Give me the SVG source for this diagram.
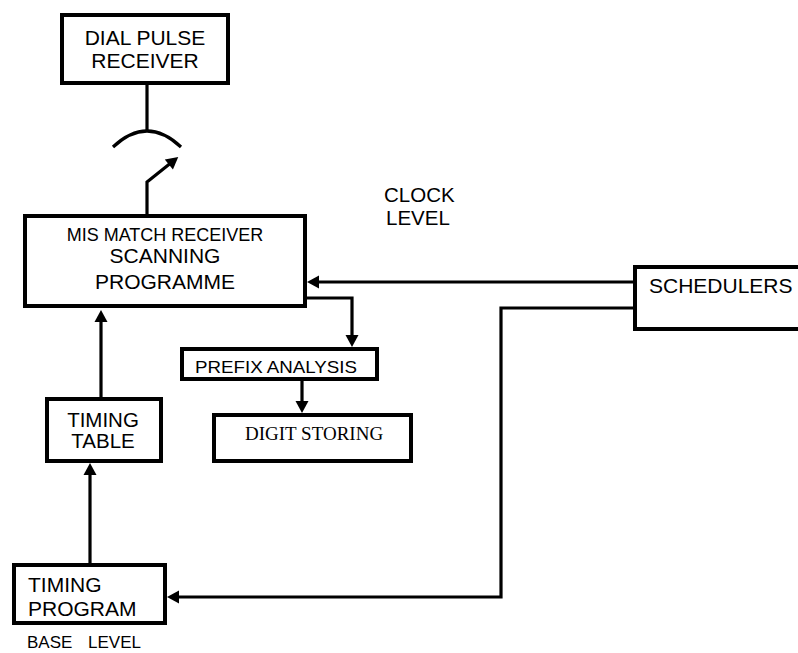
<svg xmlns="http://www.w3.org/2000/svg" width="798" height="653" viewBox="0 0 798 653">
<style>
.box{fill:#fff;stroke:#000;stroke-width:4}
.ln{fill:none;stroke:#000;stroke-width:3.2}
.t{font-family:"Liberation Sans",Arial,sans-serif;fill:#000}
.s{font-family:"Liberation Serif","Times New Roman",serif;fill:#000}
</style>
<defs>
<marker id="ah" markerUnits="userSpaceOnUse" markerWidth="14" markerHeight="14" refX="4" refY="6.5" orient="auto" overflow="visible">
<path d="M0,0 L12,6.5 L0,13 z" fill="#000"/>
</marker>
</defs>
<rect width="798" height="653" fill="#fff"/>
<g id="connectors">
<line class="ln" x1="147" y1="85" x2="147" y2="131"/>
<path class="ln" d="M113,147 Q147,115 181,147"/>
<path class="ln" d="M147,214 L147,182 L172,162" marker-end="url(#ah)"/>
<line class="ln" x1="633" y1="282" x2="315" y2="282" marker-end="url(#ah)"/>
<path class="ln" d="M307,298 L352,298 L352,339" marker-end="url(#ah)"/>
<line class="ln" x1="302" y1="381" x2="302" y2="405" marker-end="url(#ah)"/>
<line class="ln" x1="101" y1="397" x2="101" y2="318" marker-end="url(#ah)"/>
<line class="ln" x1="90" y1="563" x2="90" y2="471" marker-end="url(#ah)"/>
<path class="ln" d="M633,308 L501,308 L501,597 L175,597" marker-end="url(#ah)"/>
</g>
<g id="dial-pulse-receiver">
<rect class="box" x="62" y="15" width="166" height="68"/>
<text class="t" x="145" y="45" font-size="21" text-anchor="middle">DIAL PULSE</text>
<text class="t" x="145" y="68" font-size="21" text-anchor="middle">RECEIVER</text>
</g>
<g id="mis-match">
<rect class="box" x="25" y="216" width="280" height="90"/>
<text class="t" x="165" y="241" font-size="18" text-anchor="middle">MIS MATCH RECEIVER</text>
<text class="t" x="165" y="263" font-size="21" text-anchor="middle">SCANNING</text>
<text class="t" x="165" y="289" font-size="21" text-anchor="middle">PROGRAMME</text>
</g>
<g id="clock-level">
<text class="t" x="384" y="202" font-size="20.5">CLOCK</text>
<text class="t" x="386" y="225" font-size="20.5">LEVEL</text>
</g>
<g id="schedulers">
<rect class="box" x="635" y="267" width="200" height="62"/>
<text class="t" x="649" y="293" font-size="21">SCHEDULERS</text>
</g>
<g id="prefix-analysis">
<rect class="box" x="182" y="349" width="195" height="30"/>
<text class="t" x="195" y="373" font-size="16.5" textLength="162" lengthAdjust="spacingAndGlyphs">PREFIX ANALYSIS</text>
</g>
<g id="digit-storing">
<rect class="box" x="214" y="415" width="197" height="46"/>
<text class="s" x="245" y="440" font-size="19">DIGIT STORING</text>
</g>
<g id="timing-table">
<rect class="box" x="47" y="399" width="114" height="62"/>
<text class="t" x="103" y="427" font-size="20.5" text-anchor="middle">TIMING</text>
<text class="t" x="103" y="448" font-size="20.5" text-anchor="middle">TABLE</text>
</g>
<g id="timing-program">
<rect class="box" x="14" y="565" width="151" height="58"/>
<text class="t" x="28" y="592" font-size="21">TIMING</text>
<text class="t" x="28" y="616" font-size="21">PROGRAM</text>
</g>
<g id="base-level">
<text class="t" x="27" y="648" font-size="17" word-spacing="11">BASE LEVEL</text>
</g>
</svg>
